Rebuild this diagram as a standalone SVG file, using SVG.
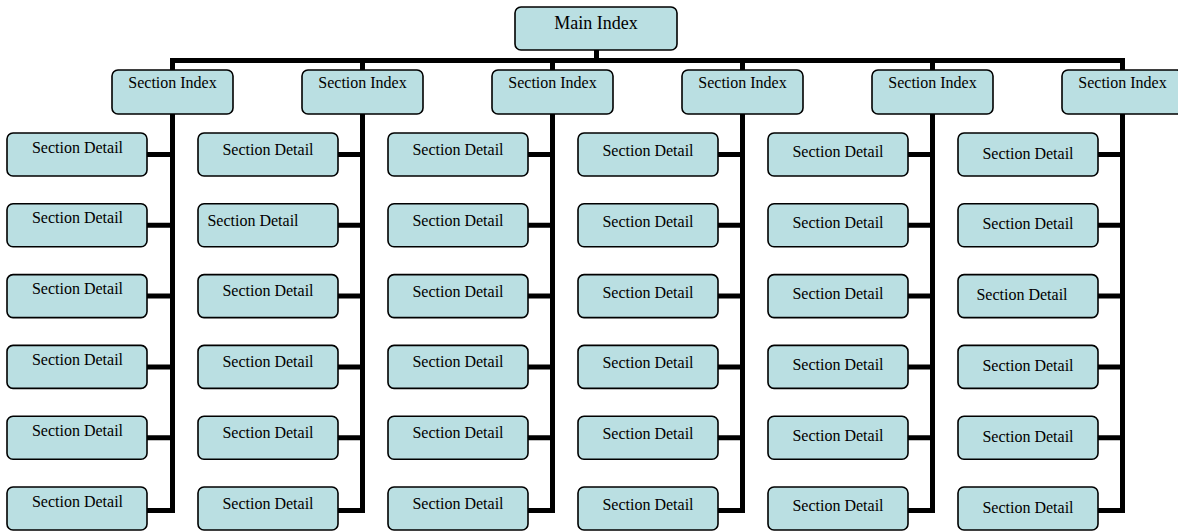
<svg xmlns="http://www.w3.org/2000/svg" width="1178" height="531" viewBox="0 0 1178 531">
<style>
.box{fill:#badfe2;stroke:#000;stroke-width:1.6}
.t{font-family:"Liberation Serif","Times New Roman",serif;font-size:16px;fill:#000;text-anchor:middle}
.tm{font-size:18px}
.c{fill:none;stroke:#000;stroke-width:5;stroke-linejoin:miter;stroke-linecap:butt}
</style>
<rect width="1178" height="531" fill="#fff"/>
<g id="connectors">
<path class="c" d="M596.5 50 V60.5"/>
<path class="c" d="M172.5 70 V60.5 H1122.5 V70"/>
<path class="c" d="M362.5 60.5 V70 M552.5 60.5 V70 M742.5 60.5 V70 M932.5 60.5 V70"/>
<path class="c" d="M172.5 114 V510.5 H147 M147 154.5 H172.5 M147 225.3 H172.5 M147 296.1 H172.5 M147 366.9 H172.5 M147 437.7 H172.5"/>
<path class="c" d="M362.5 114 V510.5 H338 M338 154.5 H362.5 M338 225.3 H362.5 M338 296.1 H362.5 M338 366.9 H362.5 M338 437.7 H362.5"/>
<path class="c" d="M552.5 114 V510.5 H528 M528 154.5 H552.5 M528 225.3 H552.5 M528 296.1 H552.5 M528 366.9 H552.5 M528 437.7 H552.5"/>
<path class="c" d="M742.5 114 V510.5 H718 M718 154.5 H742.5 M718 225.3 H742.5 M718 296.1 H742.5 M718 366.9 H742.5 M718 437.7 H742.5"/>
<path class="c" d="M932.5 114 V510.5 H908 M908 154.5 H932.5 M908 225.3 H932.5 M908 296.1 H932.5 M908 366.9 H932.5 M908 437.7 H932.5"/>
<path class="c" d="M1122.5 114 V510.5 H1098 M1098 154.5 H1122.5 M1098 225.3 H1122.5 M1098 296.1 H1122.5 M1098 366.9 H1122.5 M1098 437.7 H1122.5"/>
</g>
<g id="main"><rect class="box" x="515" y="7" width="162" height="43" rx="6"/><text class="t tm" x="596" y="28.5">Main Index</text></g>
<g id="s1"><rect class="box" x="112" y="70" width="121" height="44" rx="6"/><text class="t" x="172.5" y="88">Section Index</text></g>
<g id="s2"><rect class="box" x="302" y="70" width="121" height="44" rx="6"/><text class="t" x="362.5" y="88">Section Index</text></g>
<g id="s3"><rect class="box" x="492" y="70" width="121" height="44" rx="6"/><text class="t" x="552.5" y="88">Section Index</text></g>
<g id="s4"><rect class="box" x="682" y="70" width="121" height="44" rx="6"/><text class="t" x="742.5" y="88">Section Index</text></g>
<g id="s5"><rect class="box" x="872" y="70" width="121" height="44" rx="6"/><text class="t" x="932.5" y="88">Section Index</text></g>
<g id="s6"><rect class="box" x="1062" y="70" width="121" height="44" rx="6"/><text class="t" x="1122.5" y="88">Section Index</text></g>
<g id="d1-1"><rect class="box" x="7" y="133" width="140" height="43" rx="6"/><text class="t" x="77.5" y="152.5">Section Detail</text></g>
<g id="d1-2"><rect class="box" x="7" y="203.8" width="140" height="43" rx="6"/><text class="t" x="77.5" y="223.3">Section Detail</text></g>
<g id="d1-3"><rect class="box" x="7" y="274.6" width="140" height="43" rx="6"/><text class="t" x="77.5" y="294.1">Section Detail</text></g>
<g id="d1-4"><rect class="box" x="7" y="345.4" width="140" height="43" rx="6"/><text class="t" x="77.5" y="364.9">Section Detail</text></g>
<g id="d1-5"><rect class="box" x="7" y="416.2" width="140" height="43" rx="6"/><text class="t" x="77.5" y="435.7">Section Detail</text></g>
<g id="d1-6"><rect class="box" x="7" y="487" width="140" height="43" rx="6"/><text class="t" x="77.5" y="506.5">Section Detail</text></g>
<g id="d2-1"><rect class="box" x="198" y="133" width="140" height="43" rx="6"/><text class="t" x="268" y="154.5">Section Detail</text></g>
<g id="d2-2"><rect class="box" x="198" y="203.8" width="140" height="43" rx="6"/><text class="t" x="253" y="225.5">Section Detail</text></g>
<g id="d2-3"><rect class="box" x="198" y="274.6" width="140" height="43" rx="6"/><text class="t" x="268" y="296.1">Section Detail</text></g>
<g id="d2-4"><rect class="box" x="198" y="345.4" width="140" height="43" rx="6"/><text class="t" x="268" y="366.9">Section Detail</text></g>
<g id="d2-5"><rect class="box" x="198" y="416.2" width="140" height="43" rx="6"/><text class="t" x="268" y="437.7">Section Detail</text></g>
<g id="d2-6"><rect class="box" x="198" y="487" width="140" height="43" rx="6"/><text class="t" x="268" y="508.5">Section Detail</text></g>
<g id="d3-1"><rect class="box" x="388" y="133" width="140" height="43" rx="6"/><text class="t" x="458" y="155">Section Detail</text></g>
<g id="d3-2"><rect class="box" x="388" y="203.8" width="140" height="43" rx="6"/><text class="t" x="458" y="225.8">Section Detail</text></g>
<g id="d3-3"><rect class="box" x="388" y="274.6" width="140" height="43" rx="6"/><text class="t" x="458" y="296.6">Section Detail</text></g>
<g id="d3-4"><rect class="box" x="388" y="345.4" width="140" height="43" rx="6"/><text class="t" x="458" y="367.4">Section Detail</text></g>
<g id="d3-5"><rect class="box" x="388" y="416.2" width="140" height="43" rx="6"/><text class="t" x="458" y="438.2">Section Detail</text></g>
<g id="d3-6"><rect class="box" x="388" y="487" width="140" height="43" rx="6"/><text class="t" x="458" y="509">Section Detail</text></g>
<g id="d4-1"><rect class="box" x="578" y="133" width="140" height="43" rx="6"/><text class="t" x="648" y="156">Section Detail</text></g>
<g id="d4-2"><rect class="box" x="578" y="203.8" width="140" height="43" rx="6"/><text class="t" x="648" y="226.8">Section Detail</text></g>
<g id="d4-3"><rect class="box" x="578" y="274.6" width="140" height="43" rx="6"/><text class="t" x="648" y="297.6">Section Detail</text></g>
<g id="d4-4"><rect class="box" x="578" y="345.4" width="140" height="43" rx="6"/><text class="t" x="648" y="368.4">Section Detail</text></g>
<g id="d4-5"><rect class="box" x="578" y="416.2" width="140" height="43" rx="6"/><text class="t" x="648" y="439.2">Section Detail</text></g>
<g id="d4-6"><rect class="box" x="578" y="487" width="140" height="43" rx="6"/><text class="t" x="648" y="510">Section Detail</text></g>
<g id="d5-1"><rect class="box" x="768" y="133" width="140" height="43" rx="6"/><text class="t" x="838" y="157.3">Section Detail</text></g>
<g id="d5-2"><rect class="box" x="768" y="203.8" width="140" height="43" rx="6"/><text class="t" x="838" y="228.1">Section Detail</text></g>
<g id="d5-3"><rect class="box" x="768" y="274.6" width="140" height="43" rx="6"/><text class="t" x="838" y="298.9">Section Detail</text></g>
<g id="d5-4"><rect class="box" x="768" y="345.4" width="140" height="43" rx="6"/><text class="t" x="838" y="369.7">Section Detail</text></g>
<g id="d5-5"><rect class="box" x="768" y="416.2" width="140" height="43" rx="6"/><text class="t" x="838" y="440.5">Section Detail</text></g>
<g id="d5-6"><rect class="box" x="768" y="487" width="140" height="43" rx="6"/><text class="t" x="838" y="511.3">Section Detail</text></g>
<g id="d6-1"><rect class="box" x="958" y="133" width="140" height="43" rx="6"/><text class="t" x="1028" y="158.5">Section Detail</text></g>
<g id="d6-2"><rect class="box" x="958" y="203.8" width="140" height="43" rx="6"/><text class="t" x="1028" y="229.3">Section Detail</text></g>
<g id="d6-3"><rect class="box" x="958" y="274.6" width="140" height="43" rx="6"/><text class="t" x="1022" y="300.1">Section Detail</text></g>
<g id="d6-4"><rect class="box" x="958" y="345.4" width="140" height="43" rx="6"/><text class="t" x="1028" y="370.9">Section Detail</text></g>
<g id="d6-5"><rect class="box" x="958" y="416.2" width="140" height="43" rx="6"/><text class="t" x="1028" y="441.7">Section Detail</text></g>
<g id="d6-6"><rect class="box" x="958" y="487" width="140" height="43" rx="6"/><text class="t" x="1028" y="512.5">Section Detail</text></g>
</svg>
